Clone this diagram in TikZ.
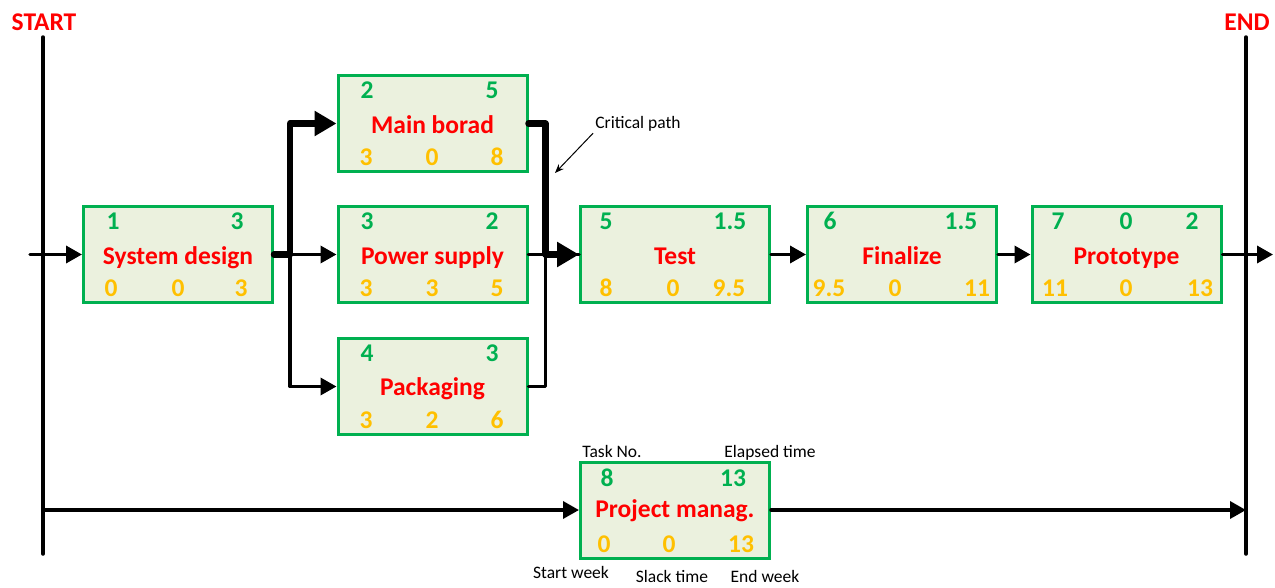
\documentclass[tikz,border=0pt]{standalone}
\usepackage{fontspec}
\setmainfont{Carlito}
\usetikzlibrary{arrows.meta}
\definecolor{boxgreen}{HTML}{00B050}
\definecolor{boxfill}{HTML}{EBF1DE}
\definecolor{numorange}{HTML}{FFC000}
\definecolor{titlered}{HTML}{FF0000}
\begin{document}
\begin{tikzpicture}[x=1pt,y=-1pt,
  task/.style={draw=boxgreen, fill=boxfill, line width=3pt, minimum width=189pt, minimum height=96pt, inner sep=0pt},
  bigfont/.style={font=\fontsize{25.5}{30}\selectfont\bfseries},
  ttl/.style={bigfont, text=titlered, anchor=base, inner sep=0pt},
  tnum/.style={bigfont, text=boxgreen, anchor=base, inner sep=0pt},
  bnum/.style={bigfont, text=numorange, anchor=base, inner sep=0pt},
  endlbl/.style={bigfont, text=titlered, anchor=base, inner sep=0pt},
  lbl/.style={font=\fontsize{17.5}{21}\selectfont, anchor=base, inner sep=0pt},
  vline/.style={line width=3.5pt, line cap=round},
  conn/.style={line width=3.5pt, line cap=round, line join=round, -{Triangle[length=16pt,width=17pt]}},
  plain/.style={line width=3.5pt, line cap=round, line join=round},
  crit/.style={line width=6.5pt, line cap=round, line join=round, -{Triangle[length=22pt,width=24pt]}},
  pointer/.style={line width=1pt, -{Stealth[length=9pt,width=7pt]}}
]
\useasboundingbox (0,0) rectangle (1275,587);

% start / end
\node[endlbl] (startl) at (44,30) {START};
\node[endlbl] (endl) at (1247,30) {END};
\coordinate (s-top) at (43,37);
\coordinate (s-bot) at (43,554);
\coordinate (e-top) at (1246,37);
\coordinate (e-bot) at (1246,554);
\draw[vline] (s-top) -- (s-bot);
\draw[vline] (e-top) -- (e-bot);

% boxes
\node[task] (sd) at (178,254.5) {};
\node[task] (mb) at (432.5,123.5) {};
\node[task] (ps) at (432.5,254.5) {};
\node[task] (pk) at (432.5,386.5) {};
\node[task] (ts) at (675,254.5) {};
\node[task] (fn) at (902,254.5) {};
\node[task] (pr) at (1126.5,254.5) {};
\node[task] (pm) at (675,510) {};

% titles
\node[ttl] (sd-t) at (178,264) {System design};
\node[ttl] (mb-t) at (432.5,133) {Main borad};
\node[ttl] (ps-t) at (432.5,264) {Power supply};
\node[ttl] (pk-t) at (432.5,395.5) {Packaging};
\node[ttl] (ts-t) at (675,264) {Test};
\node[ttl] (fn-t) at (902,264) {Finalize};
\node[ttl] (pr-t) at (1126.5,264) {Prototype};
\node[ttl] (pm-t) at (675,517) {Project manag.};

% numbers: system design
\node[tnum] (sd-a) at (113,229.5) {1};
\node[tnum] (sd-b) at (237,229.5) {3};
\node[bnum] (sd-c) at (111,296) {0};
\node[bnum] (sd-d) at (178,296) {0};
\node[bnum] (sd-e) at (241,296) {3};
% main borad
\node[tnum] (mb-a) at (367,98.5) {2};
\node[tnum] (mb-b) at (492,98.5) {5};
\node[bnum] (mb-c) at (366,165) {3};
\node[bnum] (mb-d) at (432,165) {0};
\node[bnum] (mb-e) at (497,165) {8};
% power supply
\node[tnum] (ps-a) at (367,229.5) {3};
\node[tnum] (ps-b) at (492,229.5) {2};
\node[bnum] (ps-c) at (366,296) {3};
\node[bnum] (ps-d) at (432,296) {3};
\node[bnum] (ps-e) at (497,296) {5};
% packaging
\node[tnum] (pk-a) at (367,361.5) {4};
\node[tnum] (pk-b) at (492,361.5) {3};
\node[bnum] (pk-c) at (366,428) {3};
\node[bnum] (pk-d) at (432,428) {2};
\node[bnum] (pk-e) at (497,428) {6};
% test
\node[tnum] (ts-a) at (606,229.5) {5};
\node[tnum] (ts-b) at (730,229.5) {1.5};
\node[bnum] (ts-c) at (606,296) {8};
\node[bnum] (ts-d) at (673,296) {0};
\node[bnum] (ts-e) at (729,296) {9.5};
% finalize
\node[tnum] (fn-a) at (830,229.5) {6};
\node[tnum] (fn-b) at (961,229.5) {1.5};
\node[bnum] (fn-c) at (829,296) {9.5};
\node[bnum] (fn-d) at (895,296) {0};
\node[bnum] (fn-e) at (977,296) {11};
% prototype
\node[tnum] (pr-a) at (1058,229.5) {7};
\node[tnum] (pr-b) at (1126,229.5) {0};
\node[tnum] (pr-c) at (1192,229.5) {2};
\node[bnum] (pr-d) at (1055,296) {11};
\node[bnum] (pr-e) at (1126,296) {0};
\node[bnum] (pr-f) at (1200,296) {13};
% project manag.
\node[tnum] (pm-a) at (607,486) {8};
\node[tnum] (pm-b) at (733,486) {13};
\node[bnum] (pm-c) at (604,552) {0};
\node[bnum] (pm-d) at (669,552) {0};
\node[bnum] (pm-e) at (741,552) {13};

% legend labels
\node[lbl] (cp) at (638,128) {Critical path};
\node[lbl] (tn) at (612,457) {Task No.};
\node[lbl] (et) at (770,457) {Elapsed time};
\node[lbl] (sw) at (571,578) {Start week};
\node[lbl] (st) at (672,582) {Slack time};
\node[lbl] (ew) at (765,582) {End week};
\coordinate (cp-tip) at (555,173);
\draw[pointer, shorten <=3pt] (cp.south west) -- (cp-tip);

% connectors
\coordinate (in) at (30,254.5);
\coordinate (out) at (1273,254.5);
\draw[conn] (in) -- (sd.west);
\draw[conn] (sd.east) -- (ps.west);
\draw[conn] (sd.east) ++(16,0) |- (pk.west);
\draw[plain] (ps.east) -- (ts.west);
\draw[plain] (pk.east) -- ++(17,0) |- (ps.east);
\draw[crit] (sd.east) -- ++(16,0) |- (mb.west);
\draw[crit] (mb.east) -- ++(17,0) |- (ts.west);
\draw[conn] (ts.east) -- (fn.west);
\draw[conn] (fn.east) -- (pr.west);
\draw[conn] (pr.east) -- (out);
\draw[conn] (s-bot |- pm.west) -- (pm.west);
\draw[conn] (pm.east) -- (e-bot |- pm.east);
\end{tikzpicture}
\end{document}
